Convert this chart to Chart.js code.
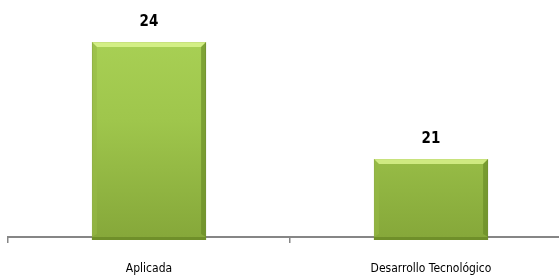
<!DOCTYPE html>
<html>
<head>
<meta charset="utf-8">
<script src="https://cdn.jsdelivr.net/npm/chart.js@4/dist/chart.umd.min.js"></script>
<style>
html,body{margin:0;padding:0;background:#fff;overflow:hidden;width:559px;height:277px;}
#wrap{width:575px;height:277px;}
</style>
</head>
<body>
<div id="wrap"><canvas id="c" width="575" height="277"></canvas></div>
<script>
const categories = ["Aplicada", "Desarrollo Tecnológico"];
const values = [24, 21];
const valueLabels = ["24", "21"];

const FONT = "'Liberation Sans Narrow', 'DejaVu Sans Condensed', 'Liberation Sans', sans-serif";

const barLabels = {
  id: 'barLabels',
  afterDatasetsDraw(chart) {
    const ctx = chart.ctx;
    const meta = chart.getDatasetMeta(0);
    ctx.save();
    ctx.font = "bold 15px " + FONT;
    ctx.fillStyle = "#000";
    ctx.textAlign = "center";
    ctx.textBaseline = "middle";
    meta.data.forEach((bar, i) => {
      ctx.fillText(valueLabels[i], bar.x, bar.y - 20);
    });
    ctx.restore();
  }
};

const bevel = {
  id: 'bevel',
  afterDatasetsDraw(chart) {
    const ctx = chart.ctx;
    const meta = chart.getDatasetMeta(0);
    const b = chart.chartArea.bottom;
    ctx.save();
    meta.data.forEach(bar => {
      const l = bar.x - bar.width / 2, r = bar.x + bar.width / 2, t = bar.y;
      ctx.fillStyle = "rgba(225,250,150,0.75)";
      ctx.beginPath();
      ctx.moveTo(l, t); ctx.lineTo(r, t); ctx.lineTo(r - 5, t + 5); ctx.lineTo(l + 5, t + 5); ctx.closePath();
      ctx.fill();
      ctx.fillStyle = "rgba(150,185,70,0.6)";
      ctx.beginPath();
      ctx.moveTo(l, t); ctx.lineTo(l + 5, t + 5); ctx.lineTo(l + 5, b - 3); ctx.lineTo(l, b); ctx.closePath();
      ctx.fill();
      ctx.fillStyle = "rgba(100,135,35,0.6)";
      ctx.beginPath();
      ctx.moveTo(r, t); ctx.lineTo(r - 5, t + 5); ctx.lineTo(r - 5, b - 3); ctx.lineTo(r, b); ctx.closePath();
      ctx.fill();
      ctx.fillStyle = "#6f8f2a";
      ctx.fillRect(l, b, r - l, 3);
    });
    ctx.restore();
  }
};

new Chart(document.getElementById('c'), {
  type: 'bar',
  data: {
    labels: categories,
    datasets: [{
      data: values,
      backgroundColor(ctx) {
        const chart = ctx.chart;
        const area = chart.chartArea;
        if (!area) return '#9ec44a';
        const g = chart.ctx.createLinearGradient(0, area.top, 0, area.bottom);
        g.addColorStop(0, '#acd458');
        g.addColorStop(0.5, '#9fc64c');
        g.addColorStop(1, '#86a83a');
        return g;
      },
      borderColor: '#7d9c34',
      borderWidth: 1,
      borderSkipped: false,
      barPercentage: 0.81,
      categoryPercentage: 0.5
    }]
  },
  options: {
    responsive: false,
    animation: false,
    devicePixelRatio: 1,
    layout: { padding: { left: 8, right: 3, top: 3, bottom: 0 } },
    plugins: { legend: { display: false }, tooltip: { enabled: false } },
    scales: {
      x: {
        afterFit(scale) { scale.height = 40; },
        grid: { drawOnChartArea: false, drawTicks: true, tickLength: 6, color: '#868686', lineWidth: 1.5, offset: true },
        border: { display: true, color: '#868686', width: 2 },
        ticks: { color: '#000', font: { family: FONT, size: 12 }, padding: 19, maxRotation: 0 }
      },
      y: {
        display: false,
        min: 19,
        max: 25
      }
    }
  },
  plugins: [bevel, barLabels]
});
</script>
</body>
</html>
